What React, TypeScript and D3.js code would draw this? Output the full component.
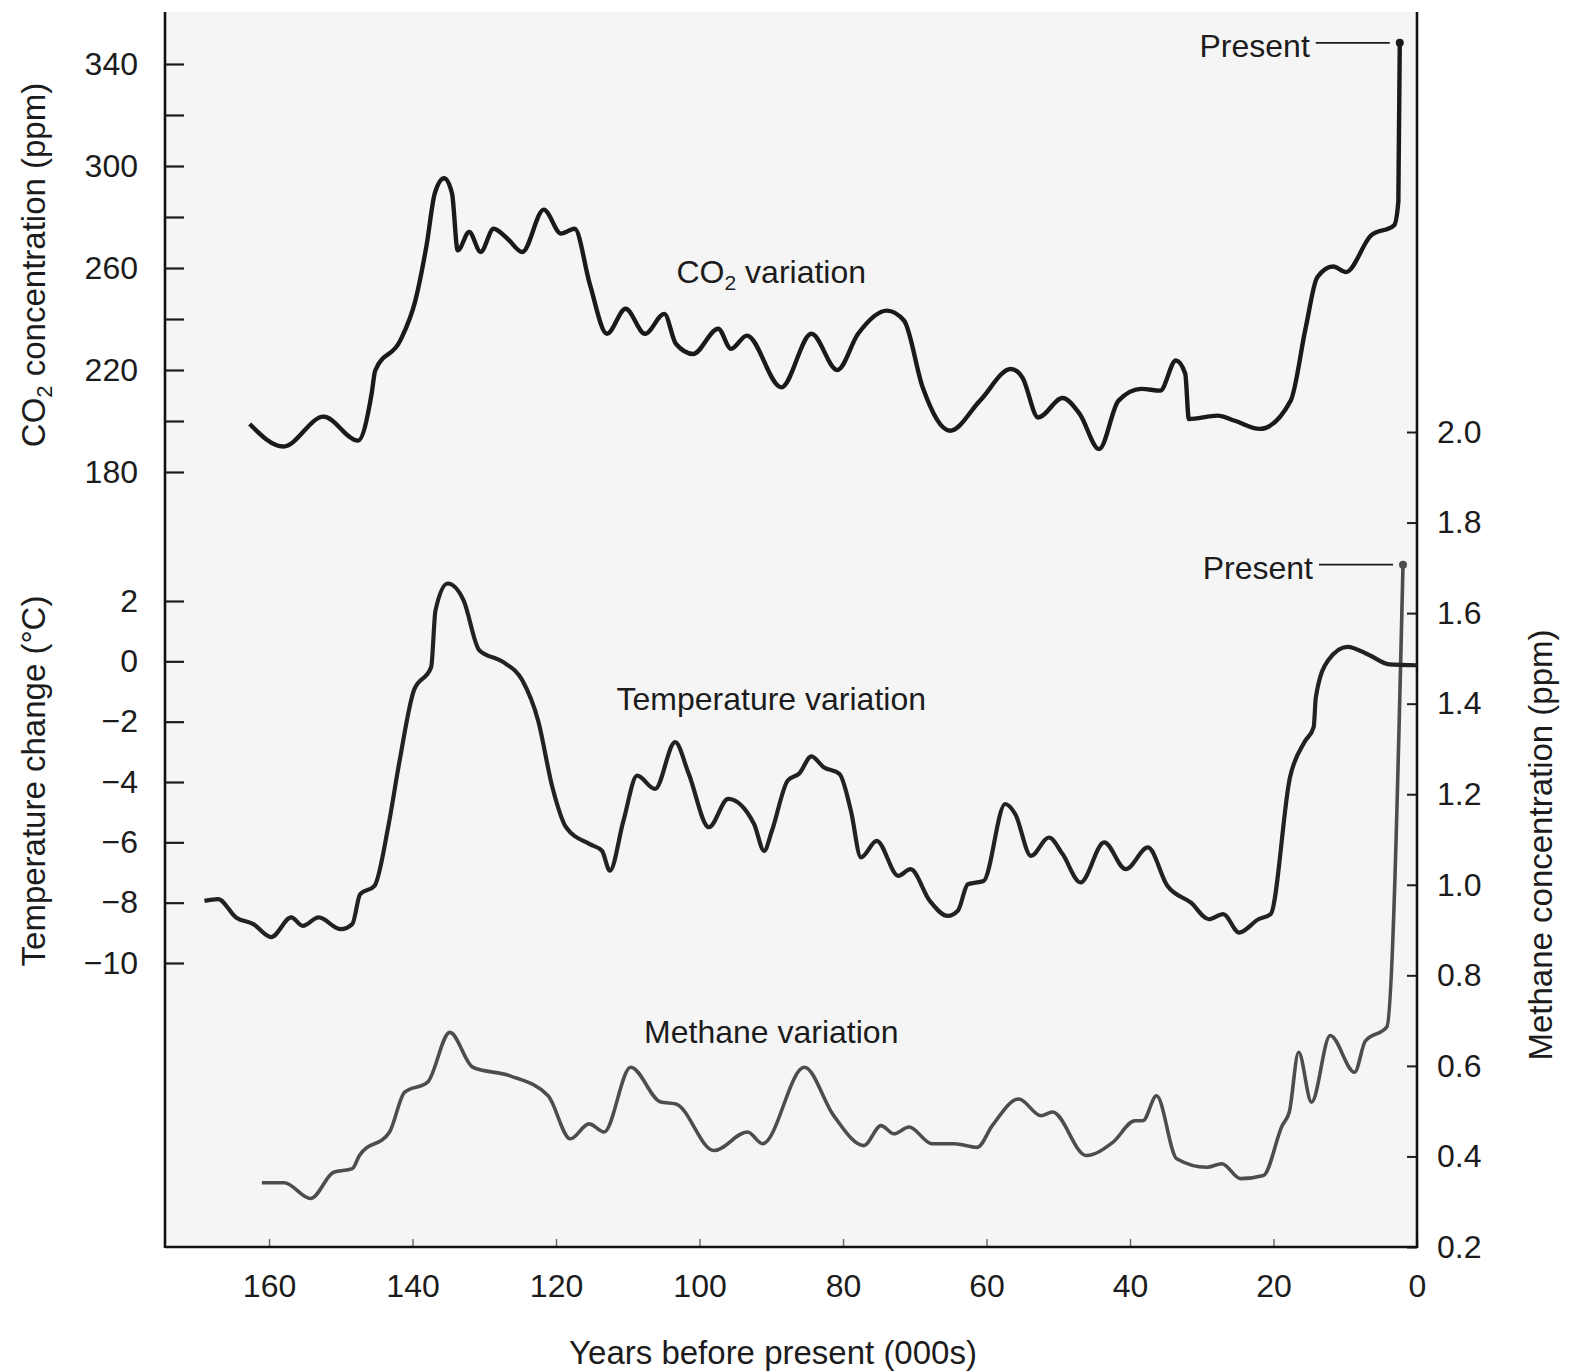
import { useRef, useEffect } from 'react'
import * as d3 from 'd3'

// years before present (000s) on the bottom axis
const yearTicks = [160, 140, 120, 100, 80, 60, 40, 20, 0]
const co2Ticks = [180, 200, 220, 240, 260, 280, 300, 320, 340]
const co2Labeled = [180, 220, 260, 300, 340]
const tempTicks = [2, 0, -2, -4, -6, -8, -10]
const methaneTicks = [0.2, 0.4, 0.6, 0.8, 1.0, 1.2, 1.4, 1.6, 1.8, 2.0]

// [year (000s BP), ppm]
const co2Series: [number, number][] = [
  [162.7, 198.8], [158.0, 190], [152.4, 201.7], [147.6, 192.3], [145.7, 210.7], [145.2, 219.8],
  [141.7, 231.6], [139.6, 247.3], [138.0, 269.7], [136.9, 289.3], [135.6, 295.2], [134.5, 289.3],
  [133.7, 266.9], [132.1, 274.1], [130.5, 266.3], [128.7, 275.4], [126.8, 271.6], [124.7, 266.3],
  [121.7, 282.9], [119.3, 273.5], [117.4, 275.4], [115.3, 253.8], [112.9, 234.2], [110.3, 244],
  [107.6, 234.2], [104.9, 242.0], [103.3, 230.3], [100.9, 226.3], [97.4, 236.2], [95.6, 228.3],
  [93.4, 233.5], [88.6, 213.2], [84.4, 234.2], [80.8, 220], [77.9, 234.2], [73.9, 243.3],
  [71.5, 239.4], [68.9, 213.2], [65.1, 196.2], [60.9, 208], [56.6, 220.4], [55.0, 217.1],
  [52.8, 201.4], [49.4, 209], [47.0, 202.7], [44.3, 189], [41.6, 208], [38.4, 212.6],
  [35.8, 211.9], [33.6, 223.7], [32.3, 218.5], [31.8, 200.8], [27.8, 202.1], [25.4, 200.1],
  [21.9, 196.9], [17.6, 208], [15.5, 236.8], [13.9, 256.4], [11.7, 260.6], [9.9, 258.4],
  [6.4, 272.8], [3.2, 276.7], [2.6, 286], [2.4, 348.3],
]

// [year, °C]
const tempSeries: [number, number][] = [
  [169.0, -7.94], [167.1, -7.88], [164.6, -8.49], [162.2, -8.71], [159.7, -9.14], [156.9, -8.49],
  [155.3, -8.77], [153.1, -8.49], [150.0, -8.88], [148.4, -8.71], [147.3, -7.72], [145.3, -7.44],
  [143.4, -5.5], [141.8, -3.29], [139.8, -0.96], [137.4, -0.19], [136.8, 1.69], [135.1, 2.58],
  [132.9, 2.03], [130.7, 0.37], [127.4, -0.02], [124.7, -0.63], [122.5, -1.96], [120.5, -4.18],
  [118.6, -5.5], [115.3, -6.06], [113.6, -6.28], [112.5, -6.94], [110.6, -5.28], [108.7, -3.79],
  [106.2, -4.23], [103.4, -2.68], [101.5, -3.73], [98.7, -5.5], [96.0, -4.56], [92.4, -5.39],
  [91.0, -6.28], [89.9, -5.61], [87.7, -3.95], [86.1, -3.72], [84.4, -3.15], [82.7, -3.51],
  [80.5, -3.73], [78.9, -4.95], [77.5, -6.5], [75.3, -5.95], [72.3, -7.11], [70.6, -6.89],
  [67.9, -7.94], [65.4, -8.44], [64.0, -8.27], [62.6, -7.39], [60.4, -7.28], [57.4, -4.73],
  [56.0, -5.06], [53.8, -6.45], [51.3, -5.84], [49.4, -6.39], [46.9, -7.33], [43.6, -6.0],
  [40.6, -6.89], [37.5, -6.17], [34.8, -7.44], [31.5, -8.0], [29.0, -8.55], [27.0, -8.38],
  [24.8, -8.99], [22.1, -8.55], [20.4, -8.38], [17.7, -3.84], [15.7, -2.68], [14.4, -2.18],
  [14.1, -1.19], [12.4, 0.03], [9.7, 0.48], [6.6, 0.2], [3.9, -0.1], [0, -0.13],
]

// [year, ppm]
const methaneSeries: [number, number][] = [
  [161.0, 0.342], [157.9, 0.342], [154.2, 0.307], [151.0, 0.365], [148.4, 0.373], [147.4, 0.402],
  [143.2, 0.454], [141.1, 0.542], [137.9, 0.564], [134.8, 0.674], [131.6, 0.597], [126.4, 0.578],
  [121.1, 0.534], [118.0, 0.439], [115.4, 0.472], [113.3, 0.454], [109.6, 0.597], [105.4, 0.52],
  [103.3, 0.516], [98.0, 0.413], [93.3, 0.454], [91.2, 0.428], [85.4, 0.597], [81.3, 0.49],
  [77.1, 0.424], [74.7, 0.468], [72.9, 0.45], [70.8, 0.465], [67.6, 0.428], [64.5, 0.428],
  [61.3, 0.42], [59.2, 0.468], [55.5, 0.527], [52.4, 0.49], [50.8, 0.498], [46.1, 0.402],
  [42.4, 0.431], [39.3, 0.479], [38.2, 0.479], [36.3, 0.534], [33.5, 0.395], [29.3, 0.376],
  [27.2, 0.384], [24.6, 0.351], [21.4, 0.358], [18.8, 0.468], [17.8, 0.498], [16.5, 0.63],
  [14.7, 0.52], [12.1, 0.667], [8.7, 0.586], [7.2, 0.655], [4.2, 0.686], [1.95, 1.707],
]

const co2Present = co2Series[co2Series.length - 1]
const methanePresent = methaneSeries[methaneSeries.length - 1]

const FONT = "'Liberation Sans', Arial, Helvetica, sans-serif"
const INK = '#1c1c1c'

export default function App() {
  const svgRef = useRef<SVGSVGElement>(null)

  useEffect(() => {
    if (!svgRef.current) return
    const svg = d3.select(svgRef.current)
    svg.selectAll('*').remove()

    const left = 165, right = 1417, top = 12, bottom = 1247

    const x = d3.scaleLinear().domain([174.5, 0]).range([left, right])
    const yCo2 = d3.scaleLinear().domain([180, 340]).range([472, 64])
    const yTemp = d3.scaleLinear().domain([-10, 2]).range([963, 601])
    const yCh4 = d3.scaleLinear().domain([0.2, 2.0]).range([bottom, 432])

    // plot area, slightly grey like the scan
    svg.append('rect')
      .attr('x', left).attr('y', top)
      .attr('width', right - left).attr('height', bottom - top)
      .attr('fill', '#f5f5f5')

    const styleText = (sel: any) => sel.selectAll('text')
      .attr('fill', INK)
      .attr('font-size', '32px')
      .attr('font-family', FONT)

    // left axis: CO2 ticks
    svg.append('g')
      .attr('transform', `translate(${left},0)`)
      .call(d3.axisLeft(yCo2).tickValues(co2Ticks).tickSize(-19).tickPadding(27)
        .tickFormat(d => (co2Labeled.includes(+d) ? String(d) : '')))
      .call(g => g.select('.domain').remove())
      .call(g => g.selectAll('.tick line').attr('stroke', INK).attr('stroke-width', 2.2))
      .call(styleText)

    // left axis: temperature ticks
    svg.append('g')
      .attr('transform', `translate(${left},0)`)
      .call(d3.axisLeft(yTemp).tickValues(tempTicks).tickSize(-19).tickPadding(27)
        .tickFormat(d => (+d < 0 ? '\u2212' + Math.abs(+d) : String(d))))
      .call(g => g.select('.domain').remove())
      .call(g => g.selectAll('.tick line').attr('stroke', INK).attr('stroke-width', 2.2))
      .call(styleText)

    // right axis: methane
    svg.append('g')
      .attr('transform', `translate(${right},0)`)
      .call(d3.axisRight(yCh4).tickValues(methaneTicks).tickSize(-10).tickPadding(20)
        .tickFormat(d3.format('.1f')))
      .call(g => g.select('.domain').remove())
      .call(g => g.selectAll('.tick line').attr('stroke', INK).attr('stroke-width', 2))
      .call(styleText)

    // bottom axis
    svg.append('g')
      .attr('transform', `translate(0,${bottom})`)
      .call(d3.axisBottom(x).tickValues(yearTicks).tickSize(-8).tickPadding(27))
      .call(g => g.select('.domain').remove())
      .call(g => g.selectAll('.tick line').attr('stroke', '#666').attr('stroke-width', 1.4))
      .call(styleText)

    // frame lines
    const frame = svg.append('g').attr('stroke', '#111').attr('stroke-width', 2.6).attr('fill', 'none')
    frame.append('line').attr('x1', left).attr('x2', left).attr('y1', top).attr('y2', bottom + 1)
    frame.append('line').attr('x1', right).attr('x2', right).attr('y1', top).attr('y2', bottom + 1)
    frame.append('line').attr('x1', left).attr('x2', right).attr('y1', bottom).attr('y2', bottom)

    const lineFor = (y: d3.ScaleLinear<number, number>) => d3.line<[number, number]>()
      .x(d => x(d[0]))
      .y(d => y(d[1]))
      .curve(d3.curveMonotoneX)

    svg.append('path')
      .datum(methaneSeries)
      .attr('d', lineFor(yCh4))
      .attr('fill', 'none')
      .attr('stroke', '#4d4d4d')
      .attr('stroke-width', 3.6)
      .attr('stroke-linejoin', 'round')

    svg.append('path')
      .datum(tempSeries)
      .attr('d', lineFor(yTemp))
      .attr('fill', 'none')
      .attr('stroke', '#222')
      .attr('stroke-width', 4.2)
      .attr('stroke-linejoin', 'round')

    svg.append('path')
      .datum(co2Series)
      .attr('d', lineFor(yCo2))
      .attr('fill', 'none')
      .attr('stroke', '#1a1a1a')
      .attr('stroke-width', 4.4)
      .attr('stroke-linejoin', 'round')

    // "Present" markers
    const present = (px: number, py: number, color: string) => {
      svg.append('circle').attr('cx', px).attr('cy', py).attr('r', 4).attr('fill', color)
      svg.append('line')
        .attr('x1', px - 84).attr('x2', px - 10)
        .attr('y1', py).attr('y2', py)
        .attr('stroke', INK).attr('stroke-width', 1.8)
      svg.append('text')
        .attr('x', px - 90).attr('y', py + 14)
        .attr('text-anchor', 'end')
        .attr('font-size', '32px').attr('font-family', FONT).attr('fill', INK)
        .text('Present')
    }
    present(x(co2Present[0]), yCo2(co2Present[1]), '#1a1a1a')
    present(x(methanePresent[0]), yCh4(methanePresent[1]), '#4d4d4d')

    // series labels
    const label = (ly: number, text: string) => svg.append('text')
      .attr('x', x(90)).attr('y', ly)
      .attr('text-anchor', 'middle')
      .attr('font-size', '32px').attr('font-family', FONT).attr('fill', INK)
      .text(text)

    const co2Label = svg.append('text')
      .attr('x', x(90)).attr('y', yCo2(254))
      .attr('text-anchor', 'middle')
      .attr('font-size', '32px').attr('font-family', FONT).attr('fill', INK)
    co2Label.append('tspan').text('CO')
    co2Label.append('tspan').attr('dy', 7).attr('font-size', '21px').text('2')
    co2Label.append('tspan').attr('dy', -7).text(' variation')
    label(yTemp(-1.6), 'Temperature variation')
    label(yCh4(0.65), 'Methane variation')

    // axis titles
    const co2Title = svg.append('text')
      .attr('transform', 'translate(45,265) rotate(-90)')
      .attr('text-anchor', 'middle')
      .attr('font-size', '33px').attr('font-family', FONT).attr('fill', INK)
    co2Title.append('tspan').text('CO')
    co2Title.append('tspan').attr('dy', 7).attr('font-size', '22px').text('2')
    co2Title.append('tspan').attr('dy', -7).text(' concentration (ppm)')

    svg.append('text')
      .attr('transform', 'translate(45,781) rotate(-90)')
      .attr('text-anchor', 'middle')
      .attr('font-size', '33px').attr('font-family', FONT).attr('fill', INK)
      .text('Temperature change (°C)')

    svg.append('text')
      .attr('transform', 'translate(1552,845) rotate(-90)')
      .attr('text-anchor', 'middle')
      .attr('font-size', '33px').attr('font-family', FONT).attr('fill', INK)
      .text('Methane concentration (ppm)')

    svg.append('text')
      .attr('x', 773).attr('y', 1364)
      .attr('text-anchor', 'middle')
      .attr('font-size', '33px').attr('font-family', FONT).attr('fill', INK)
      .text('Years before present (000s)')
  }, [])

  return (
    <svg
      ref={svgRef}
      width={1573}
      height={1372}
      style={{ position: 'absolute', left: 0, top: 0, background: '#fff' }}
    />
  )
}
